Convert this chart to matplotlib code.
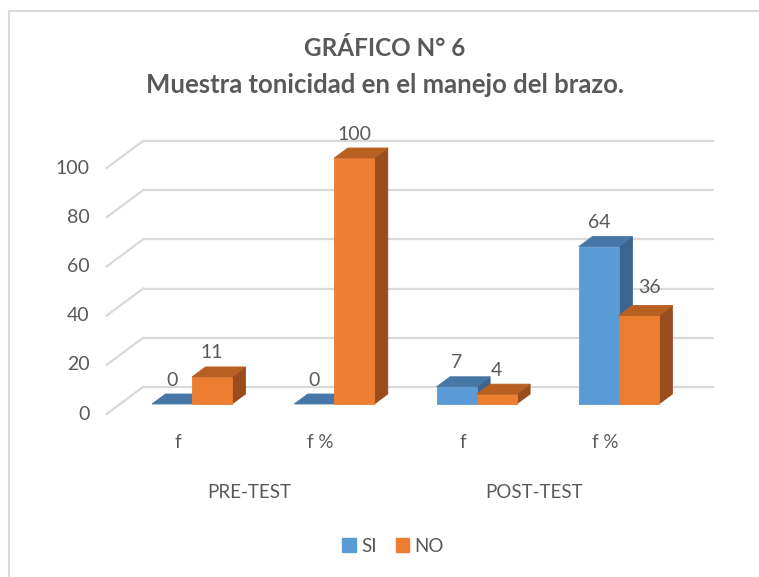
import matplotlib
matplotlib.use("Agg")
import matplotlib.pyplot as plt
from matplotlib.patches import Patch

# ================== datos ==================
categorias = ["f", "f %", "f", "f %"]
grupos = ["PRE-TEST", "POST-TEST"]
si = [0, 0, 7, 64]
no = [11, 100, 4, 36]
yticks = [0, 20, 40, 60, 80, 100]

# ================== estilo ==================
plt.rcParams['font.family'] = ['Lato', 'DejaVu Sans']
gris_txt = '#595959'
gris_grid = '#d9d9d9'
azul = {'front': '#5b9bd5', 'top': '#4677a6', 'side': '#3b6590'}
naranja = {'front': '#ed7d31', 'top': '#b85f22', 'side': '#9a4d1c'}

W, H = 759, 577
fig = plt.figure(figsize=(W / 100, H / 100), dpi=100)

# mapeo de pixeles -> datos (eje "falso 3D")
y0_px, px_val = 404, 2.46     # valor 0 y pixeles por unidad
x0_px, px_cat = 192, 142.3    # centro de la primera categoria
ylo, yhi = -27, 115
xlo, xhi = -0.7, 3.8
ax = fig.add_axes([(x0_px + xlo * px_cat) / W,
                   (H - (y0_px - ylo * px_val)) / H,
                   (xhi - xlo) * px_cat / W,
                   (yhi - ylo) * px_val / H])
ax.set_xlim(xlo, xhi)
ax.set_ylim(ylo, yhi)
ax.axis('off')

# profundidad de la barra (en unidades de datos)
dx = 13.5 / px_cat
dy = 10 / px_val
k_back, k_front = 1.7, -1.0
bw = 40 / px_cat  # ancho de cada barra

# pared del fondo + diagonales de la pared lateral
for t in yticks:
    xl_b = -0.505 + k_back * dx
    xr_b = 3.505 + k_back * dx
    yb = t + k_back * dy
    ax.plot([xl_b, xr_b], [yb, yb], color=gris_grid, lw=1.6, zorder=1,
            solid_capstyle='butt')
    ax.plot([xl_b, -0.505 + k_front * dx], [yb, t + k_front * dy],
            color=gris_grid, lw=1.6, zorder=1)
    ax.text(-0.505 + k_front * dx - 17 / px_cat, t + k_front * dy, str(t),
            ha='right', va='center', fontsize=14, color=gris_txt)


def barra3d(xl, h, c, z):
    front = [(xl, 0), (xl + bw, 0), (xl + bw, h), (xl, h)]
    top = [(xl, h), (xl + bw, h), (xl + bw + dx, h + dy), (xl + dx, h + dy)]
    side = [(xl + bw, 0), (xl + bw + dx, dy), (xl + bw + dx, h + dy), (xl + bw, h)]
    if h > 0:
        ax.fill(*zip(*side), color=c['side'], lw=0.6, ec=c['side'], zorder=z)
        ax.fill(*zip(*front), color=c['front'], lw=0.6, ec=c['front'], zorder=z)
    ax.fill(*zip(*top), color=c['top'], lw=0.6, ec=c['top'], zorder=z)


# nudges de etiquetas (Excel mueve la de 36 para no chocar)
nudge = {(3, 'no'): (11, 4)}

for i in range(len(categorias)):
    barra3d(i - bw, si[i], azul, 3 + 2 * i)
    barra3d(i, no[i], naranja, 4 + 2 * i)
    for serie, vals, xc in (('si', si, i - bw / 2), ('no', no, i + bw / 2)):
        nx, ny = nudge.get((i, serie), (0, 0))
        ax.text(xc + nx / px_cat, vals[i] + (24 + ny) / px_val, str(vals[i]),
                ha='center', va='center', fontsize=14, color=gris_txt, zorder=20)
    # etiqueta de categoria en el plano frontal
    ax.text(i + k_front * dx - 0.5 / px_cat, (y0_px - 443) / px_val, categorias[i],
            ha='center', va='center', fontsize=13.5, color=gris_txt)

for g, nombre in enumerate(grupos):
    xc = 2 * g + 0.5 + k_front * dx
    ax.text(xc, (y0_px - 492) / px_val, nombre, ha='center', va='center',
            fontsize=13.5, color=gris_txt)

# titulo
fig.text(385 / W, 1 - 48 / H, "GRÁFICO N° 6", ha='center', va='center',
         fontsize=17.5, fontweight='bold', color=gris_txt)
fig.text(385 / W, 1 - 85 / H, "Muestra tonicidad en el manejo del brazo.",
         ha='center', va='center', fontsize=18.5, fontweight='bold', color=gris_txt)

# leyenda
handles = [Patch(color=azul['front'], label='SI'), Patch(color=naranja['front'], label='NO')]
fig.legend(handles=handles, loc='center', bbox_to_anchor=(393 / W, 1 - 546 / H),
           ncol=2, frameon=False, fontsize=13.5, handlelength=0.7, handleheight=0.7,
           handletextpad=0.3, columnspacing=1.0, labelcolor=gris_txt)

# borde del grafico
fig.add_artist(plt.Line2D([9 / W, 9 / W], [0, 1 - 11 / H], color='#d9d9d9', lw=1.5))
fig.add_artist(plt.Line2D([9 / W, 1], [1 - 11 / H, 1 - 11 / H], color='#d9d9d9', lw=1.5))

fig.savefig("out.png", dpi=100)
